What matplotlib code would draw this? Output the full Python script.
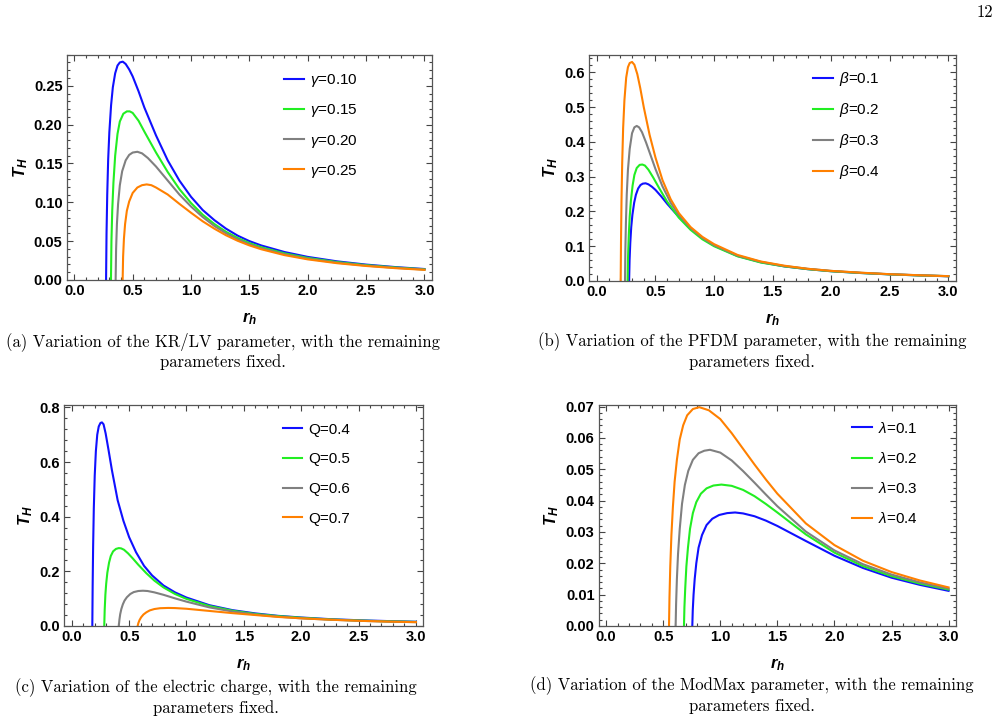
import matplotlib
matplotlib.use("Agg")
import matplotlib.pyplot as plt
from matplotlib.ticker import MultipleLocator, FormatStrFormatter

plt.rcParams["font.family"] = ["Liberation Sans", "DejaVu Sans"]
plt.rcParams["mathtext.fontset"] = "custom"
plt.rcParams["mathtext.rm"] = "Liberation Sans"
plt.rcParams["mathtext.it"] = "Liberation Sans:italic"
plt.rcParams["mathtext.bf"] = "Liberation Sans:bold"
plt.rcParams["mathtext.bfit"] = "Liberation Sans:italic:bold"

COLORS = ["#1010ff", "#22ee22", "#808080", "#ff8000"]

# (a) KR/LV parameter
gamma_labels = [r"$\gamma$=0.10", r"$\gamma$=0.15", r"$\gamma$=0.20", r"$\gamma$=0.25"]
gamma_r = [
    [0.272, 0.276, 0.282, 0.29, 0.30, 0.315, 0.33, 0.35, 0.37, 0.39, 0.415, 0.44, 0.47, 0.5, 0.55, 0.6,
     0.7, 0.8, 0.9, 1.0, 1.1, 1.2, 1.3, 1.4, 1.5, 1.6, 1.8, 2.0, 2.25, 2.5, 2.75, 3.0],
    [0.314, 0.318, 0.325, 0.335, 0.35, 0.37, 0.39, 0.42, 0.45, 0.475, 0.5, 0.55, 0.6, 0.7, 0.8, 0.9,
     1.0, 1.1, 1.2, 1.3, 1.4, 1.5, 1.6, 1.8, 2.0, 2.25, 2.5, 2.75, 3.0],
    [0.354, 0.358, 0.365, 0.375, 0.39, 0.41, 0.44, 0.47, 0.5, 0.54, 0.58, 0.63, 0.7, 0.8, 0.9, 1.0,
     1.1, 1.2, 1.3, 1.4, 1.5, 1.6, 1.8, 2.0, 2.25, 2.5, 2.75, 3.0],
    [0.414, 0.418, 0.425, 0.435, 0.45, 0.47, 0.5, 0.54, 0.58, 0.62, 0.66, 0.7, 0.8, 0.9, 1.0, 1.1,
     1.2, 1.3, 1.4, 1.5, 1.6, 1.8, 2.0, 2.25, 2.5, 2.75, 3.0],
]
gamma_T = [
    [0, 0.06, 0.11, 0.155, 0.19, 0.225, 0.248, 0.266, 0.276, 0.280, 0.281, 0.278, 0.271, 0.262, 0.243,
     0.222, 0.186, 0.154, 0.128, 0.107, 0.090, 0.077, 0.066, 0.057, 0.050, 0.0445, 0.0360, 0.0297,
     0.0240, 0.0198, 0.0166, 0.0141],
    [0, 0.05, 0.09, 0.125, 0.16, 0.188, 0.204, 0.214, 0.217, 0.217, 0.215, 0.205, 0.191, 0.164, 0.139,
     0.117, 0.099, 0.084, 0.072, 0.062, 0.054, 0.0475, 0.0422, 0.0343, 0.0284, 0.0231, 0.0191, 0.0161, 0.0137],
    [0, 0.04, 0.072, 0.098, 0.122, 0.140, 0.154, 0.161, 0.164, 0.165, 0.163, 0.157, 0.146, 0.128, 0.110,
     0.0945, 0.081, 0.0695, 0.060, 0.0522, 0.0459, 0.0408, 0.0331, 0.0274, 0.0223, 0.0185, 0.0156, 0.0134],
    [0, 0.03, 0.053, 0.072, 0.089, 0.101, 0.112, 0.119, 0.122, 0.123, 0.122, 0.119, 0.110, 0.098, 0.0865,
     0.0755, 0.0660, 0.0575, 0.0504, 0.0445, 0.0396, 0.0320, 0.0265, 0.0216, 0.0180, 0.0152, 0.0130],
]

# (b) PFDM parameter
beta_labels = [r"$\beta$=0.1", r"$\beta$=0.2", r"$\beta$=0.3", r"$\beta$=0.4"]
beta_r = [
    [0.275, 0.279, 0.285, 0.293, 0.303, 0.318, 0.333, 0.352, 0.372, 0.392, 0.416, 0.44, 0.47, 0.5, 0.55,
     0.6, 0.7, 0.8, 0.9, 1.0, 1.2, 1.4, 1.6, 1.8, 2.0, 2.25, 2.5, 2.75, 3.0],
    [0.262, 0.266, 0.272, 0.28, 0.29, 0.305, 0.32, 0.34, 0.365, 0.388, 0.41, 0.44, 0.48, 0.53, 0.6, 0.7,
     0.8, 0.9, 1.0, 1.2, 1.4, 1.6, 1.8, 2.0, 2.25, 2.5, 2.75, 3.0],
    [0.24, 0.243, 0.248, 0.255, 0.265, 0.28, 0.3, 0.32, 0.34, 0.36, 0.385, 0.42, 0.46, 0.5, 0.56, 0.63,
     0.7, 0.8, 0.9, 1.0, 1.2, 1.4, 1.6, 1.8, 2.0, 2.25, 2.5, 2.75, 3.0],
    [0.203, 0.206, 0.21, 0.216, 0.224, 0.235, 0.25, 0.265, 0.28, 0.3, 0.32, 0.345, 0.37, 0.4, 0.45, 0.5,
     0.56, 0.63, 0.7, 0.8, 0.9, 1.0, 1.2, 1.4, 1.6, 1.8, 2.0, 2.25, 2.5, 2.75, 3.0],
]
beta_T = [
    [0, 0.06, 0.11, 0.155, 0.19, 0.225, 0.248, 0.266, 0.276, 0.280, 0.281, 0.278, 0.271, 0.262, 0.243,
     0.222, 0.184, 0.150, 0.123, 0.102, 0.072, 0.054, 0.042, 0.034, 0.028, 0.023, 0.019, 0.016, 0.0135],
    [0, 0.07, 0.13, 0.185, 0.23, 0.275, 0.305, 0.325, 0.334, 0.335, 0.332, 0.32, 0.298, 0.268, 0.228,
     0.182, 0.147, 0.12, 0.1, 0.071, 0.053, 0.042, 0.034, 0.028, 0.023, 0.019, 0.016, 0.0138],
    [0, 0.09, 0.17, 0.25, 0.32, 0.38, 0.425, 0.442, 0.446, 0.442, 0.428, 0.398, 0.36, 0.322, 0.272,
     0.225, 0.19, 0.152, 0.124, 0.103, 0.073, 0.055, 0.043, 0.035, 0.029, 0.0235, 0.0195, 0.0165, 0.014],
    [0, 0.12, 0.23, 0.34, 0.44, 0.52, 0.585, 0.615, 0.627, 0.63, 0.622, 0.595, 0.555, 0.5, 0.42, 0.355,
     0.29, 0.235, 0.195, 0.155, 0.127, 0.106, 0.075, 0.056, 0.044, 0.035, 0.029, 0.024, 0.0195, 0.0165, 0.0138],
]

# (c) electric charge
charge_labels = ["Q=0.4", "Q=0.5", "Q=0.6", "Q=0.7"]
charge_r = [
    [0.179, 0.182, 0.186, 0.192, 0.2, 0.21, 0.222, 0.235, 0.25, 0.263, 0.277, 0.295, 0.32, 0.35, 0.4,
     0.45, 0.5, 0.56, 0.63, 0.7, 0.8, 0.9, 1.0, 1.2, 1.4, 1.6, 1.8, 2.0, 2.25, 2.5, 2.75, 3.0],
    [0.283, 0.287, 0.293, 0.30, 0.31, 0.325, 0.34, 0.36, 0.385, 0.41, 0.43, 0.455, 0.49, 0.53, 0.58,
     0.65, 0.72, 0.8, 0.9, 1.0, 1.2, 1.4, 1.6, 1.8, 2.0, 2.25, 2.5, 2.75, 3.0],
    [0.41, 0.415, 0.422, 0.432, 0.445, 0.46, 0.48, 0.51, 0.54, 0.58, 0.62, 0.66, 0.72, 0.8, 0.9, 1.0,
     1.2, 1.4, 1.6, 1.8, 2.0, 2.25, 2.5, 2.75, 3.0],
    [0.574, 0.58, 0.59, 0.605, 0.625, 0.65, 0.68, 0.72, 0.77, 0.84, 0.9, 1.0, 1.1, 1.2, 1.4, 1.6, 1.8,
     2.0, 2.25, 2.5, 2.75, 3.0],
]
charge_T = [
    [0, 0.15, 0.29, 0.43, 0.55, 0.64, 0.70, 0.73, 0.743, 0.745, 0.738, 0.705, 0.645, 0.57, 0.46, 0.385,
     0.325, 0.27, 0.22, 0.185, 0.148, 0.123, 0.104, 0.076, 0.058, 0.046, 0.037, 0.031, 0.025, 0.021, 0.018, 0.0155],
    [0, 0.06, 0.115, 0.155, 0.195, 0.232, 0.256, 0.273, 0.282, 0.285, 0.284, 0.279, 0.266, 0.248, 0.224,
     0.193, 0.166, 0.141, 0.117, 0.099, 0.073, 0.056, 0.044, 0.036, 0.030, 0.024, 0.020, 0.017, 0.0148],
    [0, 0.022, 0.043, 0.062, 0.079, 0.093, 0.105, 0.117, 0.124, 0.128, 0.129, 0.128, 0.123, 0.114, 0.101,
     0.089, 0.068, 0.053, 0.042, 0.034, 0.028, 0.023, 0.019, 0.016, 0.014],
    [0, 0.01, 0.021, 0.032, 0.042, 0.05, 0.057, 0.062, 0.065, 0.066, 0.0655, 0.063, 0.059, 0.055, 0.047,
     0.04, 0.033, 0.028, 0.023, 0.019, 0.016, 0.014],
]

# (d) ModMax parameter
lam_labels = [r"$\lambda$=0.1", r"$\lambda$=0.2", r"$\lambda$=0.3", r"$\lambda$=0.4"]
lam_r = [
    [0.755, 0.759, 0.766, 0.776, 0.79, 0.81, 0.84, 0.88, 0.93, 0.99, 1.06, 1.13, 1.2, 1.3, 1.4, 1.5,
     1.75, 2.0, 2.25, 2.5, 2.75, 3.0],
    [0.682, 0.686, 0.693, 0.703, 0.717, 0.735, 0.76, 0.79, 0.83, 0.88, 0.94, 1.01, 1.1, 1.2, 1.3, 1.4,
     1.5, 1.75, 2.0, 2.25, 2.5, 2.75, 3.0],
    [0.609, 0.613, 0.62, 0.63, 0.645, 0.665, 0.69, 0.72, 0.76, 0.81, 0.86, 0.91, 1.0, 1.1, 1.2,
     1.3, 1.4, 1.5, 1.75, 2.0, 2.25, 2.5, 2.75, 3.0],
    [0.551, 0.555, 0.562, 0.572, 0.585, 0.6, 0.62, 0.645, 0.675, 0.71, 0.76, 0.816, 0.9, 1.0, 1.1,
     1.2, 1.3, 1.4, 1.5, 1.75, 2.0, 2.25, 2.5, 2.75, 3.0],
]
lam_T = [
    [0, 0.005, 0.010, 0.015, 0.020, 0.025, 0.029, 0.0322, 0.0342, 0.0354, 0.0360, 0.0362, 0.0359, 0.0350,
     0.0336, 0.0319, 0.0271, 0.0224, 0.0185, 0.0154, 0.0131, 0.0112],
    [0, 0.006, 0.012, 0.019, 0.025, 0.031, 0.036, 0.0395, 0.0422, 0.0439, 0.0448, 0.0451, 0.0447, 0.0434,
     0.0414, 0.0389, 0.0362, 0.0292, 0.0234, 0.0191, 0.0159, 0.0135, 0.0116],
    [0, 0.007, 0.015, 0.023, 0.031, 0.039, 0.045, 0.0495, 0.053, 0.0551, 0.0559, 0.0562, 0.0553,
     0.0528, 0.0494, 0.0457, 0.0419, 0.0382, 0.0301, 0.0241, 0.0197, 0.0164, 0.0139, 0.0119],
    [0, 0.009, 0.019, 0.029, 0.038, 0.046, 0.053, 0.0595, 0.064, 0.0672, 0.0692, 0.0698, 0.0688, 0.0660,
     0.0615, 0.0565, 0.0515, 0.0467, 0.0422, 0.0327, 0.0258, 0.0208, 0.0172, 0.0145, 0.0123],
]

captions = [
    "(a) Variation of the KR/LV parameter, with the remaining\nparameters fixed.",
    "(b) Variation of the PFDM parameter, with the remaining\nparameters fixed.",
    "(c) Variation of the electric charge, with the remaining\nparameters fixed.",
    "(d) Variation of the ModMax parameter, with the remaining\nparameters fixed.",
]


def draw_panel(ax, rs, ts, labels, ymax, ymajor, yminor, yfmt, leg_xy, spacing):
    for r, t, c, lab in zip(rs, ts, COLORS, labels):
        ax.plot(r, t, color=c, lw=1.5, label=lab, solid_joinstyle="round")
    ax.set_xlim(-0.065, 3.065)
    ax.set_ylim(0, ymax)
    ax.xaxis.set_major_locator(MultipleLocator(0.5))
    ax.xaxis.set_minor_locator(MultipleLocator(0.1))
    ax.yaxis.set_major_locator(MultipleLocator(ymajor))
    ax.yaxis.set_minor_locator(MultipleLocator(yminor))
    ax.xaxis.set_major_formatter(FormatStrFormatter("%.1f"))
    ax.yaxis.set_major_formatter(FormatStrFormatter(yfmt))
    ax.tick_params(which="both", direction="in", top=True, right=True, color="#444444",
                   labelsize=10.5, pad=3, width=0.8)
    ax.tick_params(which="major", length=4)
    ax.tick_params(which="minor", length=2)
    for lbl in ax.get_xticklabels() + ax.get_yticklabels():
        lbl.set_fontweight("bold")
    for sp in ax.spines.values():
        sp.set_color("#555555")
        sp.set_linewidth(0.9)
    ax.set_xlabel(r"$\mathbfit{r}_\mathbfit{h}$", fontsize=12, labelpad=9)
    ax.set_ylabel(r"$\mathbfit{T}_\mathbfit{H}$", fontsize=12, labelpad=3)
    ax.legend(loc="upper left", bbox_to_anchor=leg_xy, frameon=False, fontsize=11,
              handlelength=1.3, handletextpad=0.4, labelspacing=spacing, borderpad=0,
              borderaxespad=0)


fig = plt.figure(figsize=(10.02, 7.24), dpi=100)
ax_a = fig.add_axes([0.0666, 0.6133, 0.3646, 0.3112])
ax_b = fig.add_axes([0.5881, 0.6119, 0.3660, 0.3126])
ax_c = fig.add_axes([0.0642, 0.1354, 0.3583, 0.3057])
ax_d = fig.add_axes([0.5975, 0.1354, 0.3566, 0.3057])

draw_panel(ax_a, gamma_r, gamma_T, gamma_labels, 0.29, 0.05, 0.01, "%.2f", (0.595, 0.922), 0.86)
draw_panel(ax_b, beta_r, beta_T, beta_labels, 0.651, 0.1, 0.02, "%.1f", (0.611, 0.932), 0.86)
draw_panel(ax_c, charge_r, charge_T, charge_labels, 0.81, 0.2, 0.04, "%.1f", (0.608, 0.918), 1.02)
draw_panel(ax_d, lam_r, lam_T, lam_labels, 0.0706, 0.01, 0.002, "%.2f", (0.71, 0.927), 0.99)

cap_kw = dict(ha="center", va="center", fontsize=12, family="cmr10", linespacing=1.25)
fig.text(223 / 1002, 1 - 351 / 724, captions[0], **cap_kw)
fig.text(752 / 1002, 1 - 351 / 724, captions[1], **cap_kw)
fig.text(216 / 1002, 1 - 697 / 724, captions[2], **cap_kw)
fig.text(752 / 1002, 1 - 695 / 724, captions[3], **cap_kw)
fig.text(985 / 1002, 1 - 12 / 724, "12", ha="center", va="center", fontsize=12, family="cmr10")

fig.savefig("out.png", dpi=100)
